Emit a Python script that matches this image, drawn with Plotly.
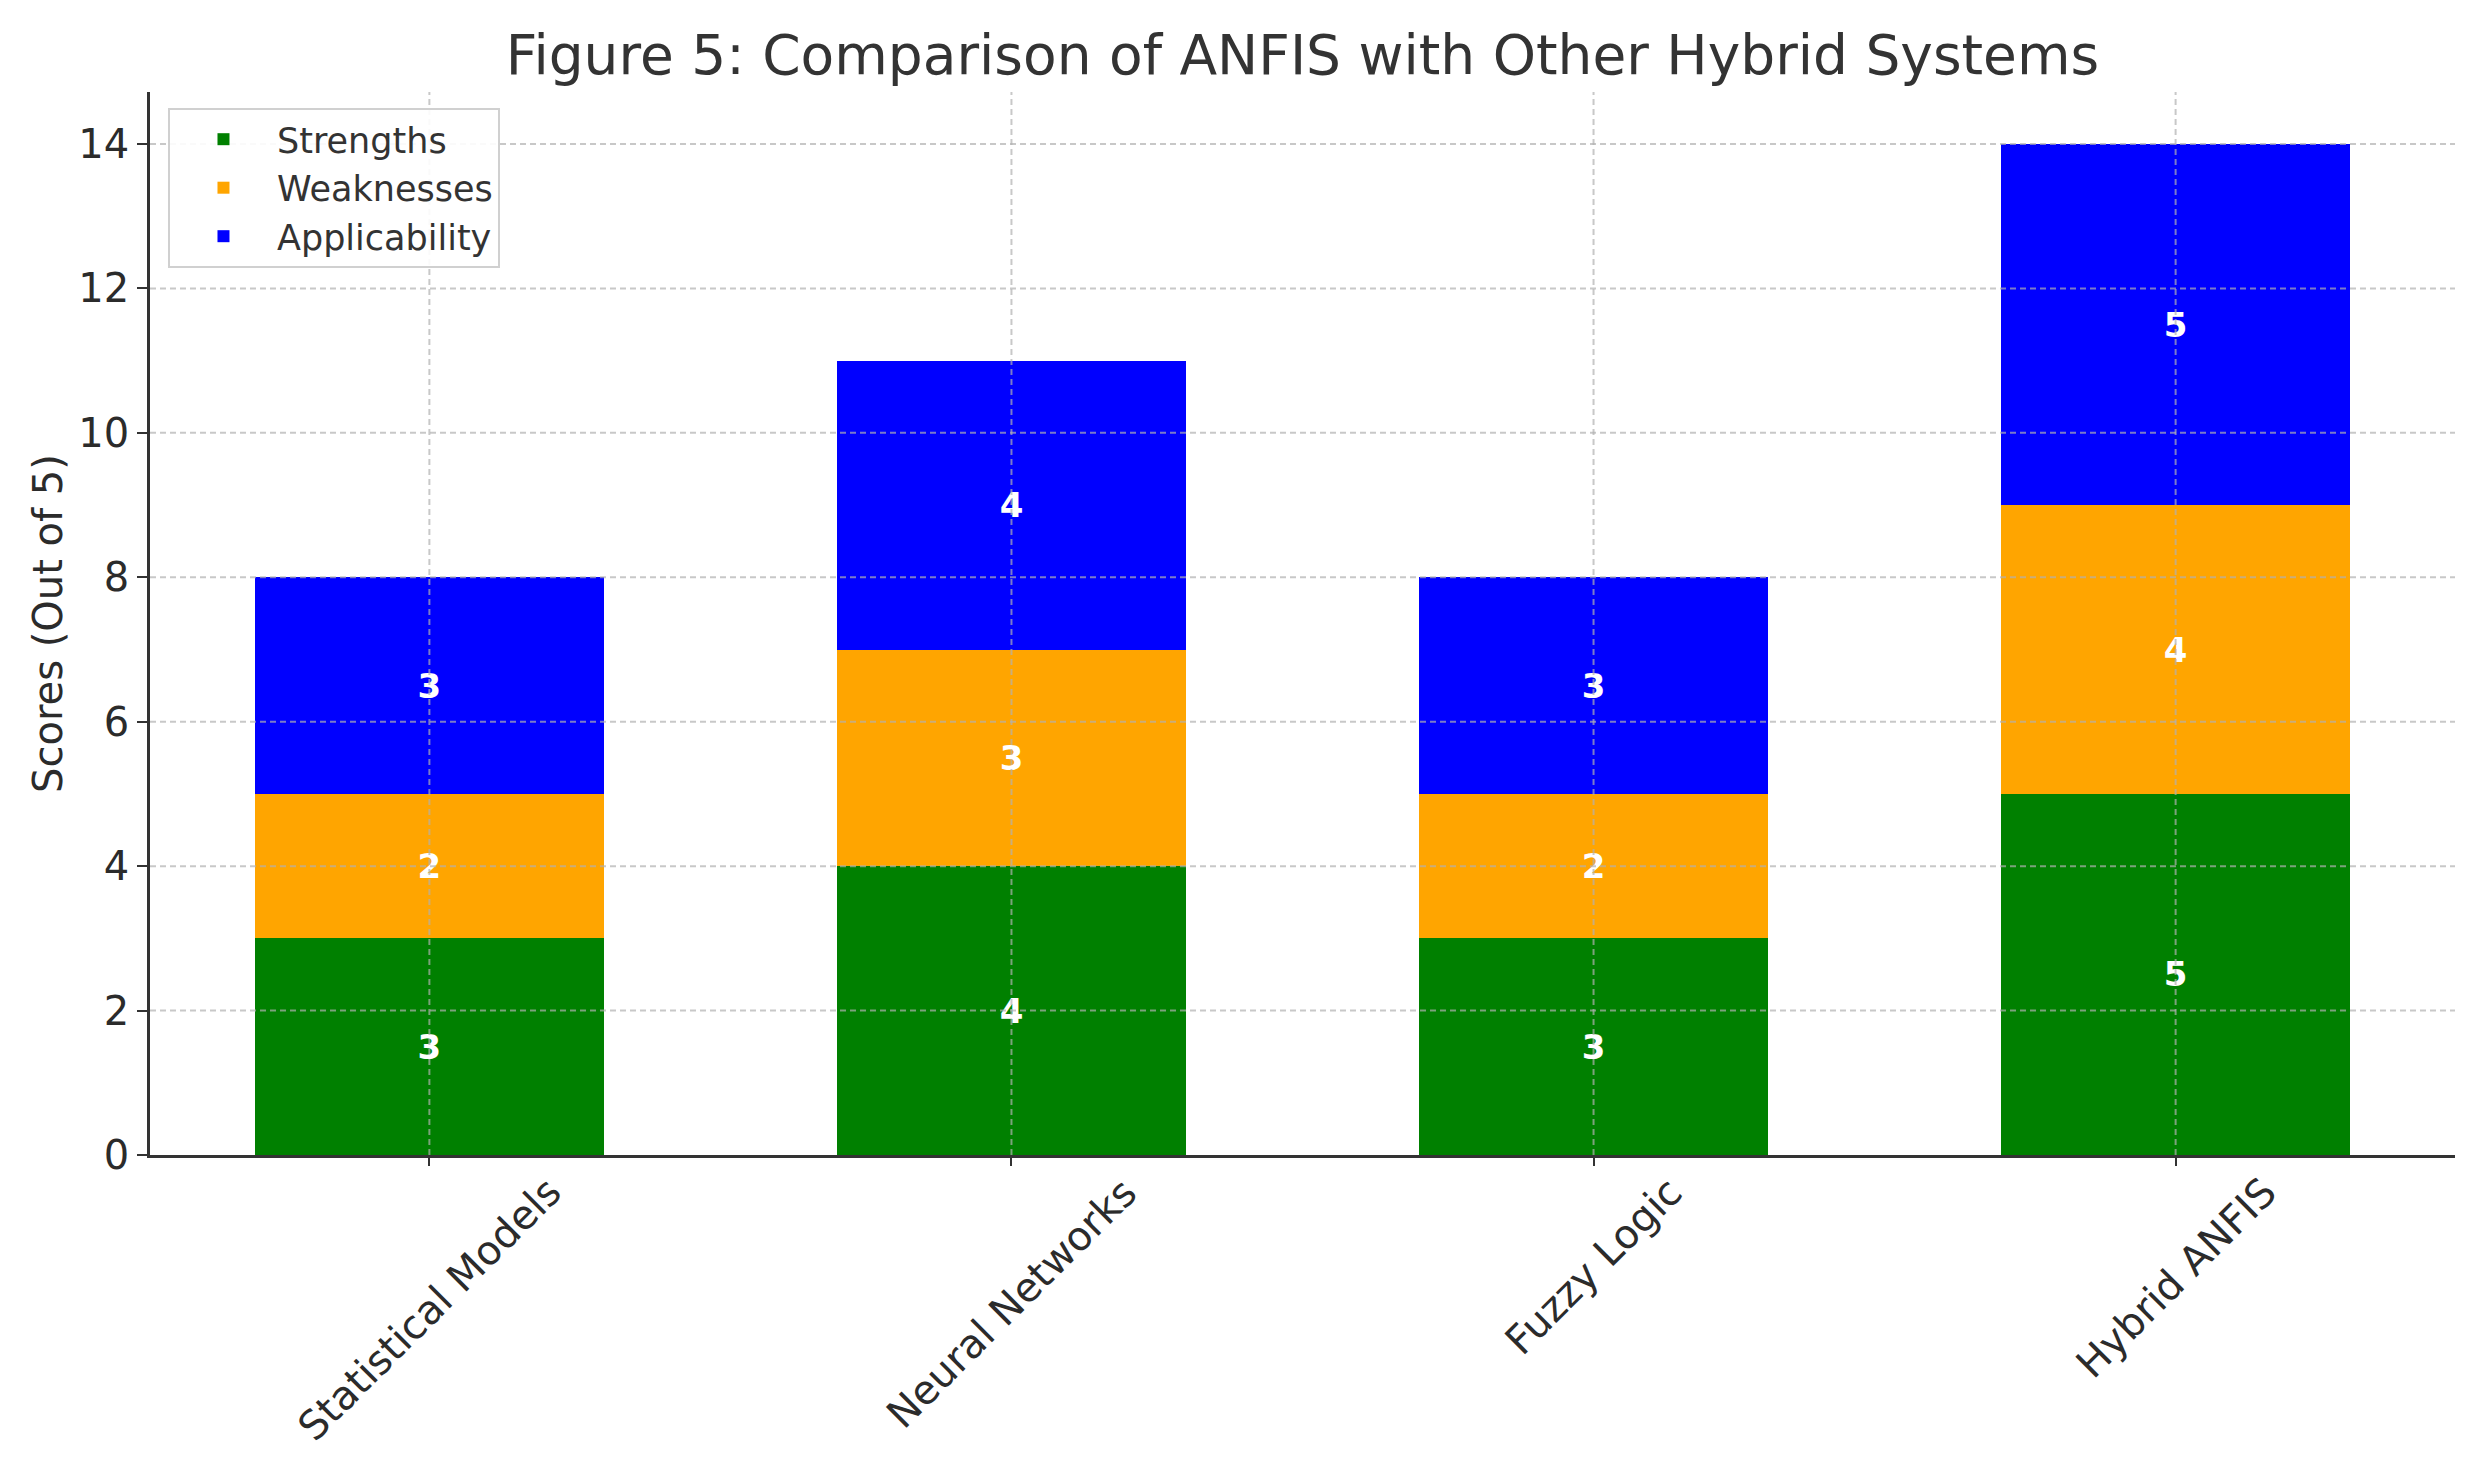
import plotly.graph_objects as go

categories = ["Statistical Models", "Neural Networks", "Fuzzy Logic", "Hybrid ANFIS"]
strengths = [3, 4, 3, 5]
weaknesses = [2, 3, 2, 4]
applicability = [3, 4, 3, 5]
series_names = ["Strengths", "Weaknesses", "Applicability"]
series_colors = ["#008000", "#FFA500", "#0000FF"]
y_ticks = [0, 2, 4, 6, 8, 10, 12, 14]

FONT = "DejaVu Sans"
TXT = "#2b2b2b"

fig = go.Figure()
for name, vals, col in zip(series_names, [strengths, weaknesses, applicability], series_colors):
    fig.add_trace(go.Bar(
        x=categories, y=vals, name=name, legendgroup=name,
        marker=dict(color=col, line=dict(width=0)),
        texttemplate="%{y}", textposition="inside", insidetextanchor="middle",
        textfont=dict(family=FONT, size=34, color="white", weight="bold"),
        constraintext="none",
    ))

# dashed grid drawn above the bars (as in the reference)
grid_col = "rgba(176,176,176,0.7)"
shapes = []
for t in y_ticks[1:]:
    shapes.append(dict(type="line", xref="paper", yref="y", x0=0, x1=1, y0=t, y1=t,
                       line=dict(color=grid_col, width=2, dash="6px,4px"), layer="above"))
for i in range(len(categories)):
    shapes.append(dict(type="line", xref="x", yref="paper", x0=i, x1=i, y0=0, y1=1,
                       line=dict(color=grid_col, width=2, dash="6px,4px"), layer="above"))

annotations = []
for c in categories:
    annotations.append(dict(x=c, xref="x", y=-0.0104, yref="paper", text=c,
                            showarrow=False, textangle=-45, xanchor="center", yanchor="top",
                            font=dict(family=FONT, size=40, color=TXT)))

fig.update_layout(
    width=2480, height=1463,
    margin=dict(l=142, r=33, t=84, b=316),
    paper_bgcolor="white", plot_bgcolor="white",
    barmode="stack", bargap=0.4,
    font=dict(family=FONT, color=TXT),
    title=dict(text="Figure 5: Comparison of ANFIS with Other Hybrid Systems",
               x=0.5, xref="paper", xanchor="center", y=1 - 47 / 1463, yref="container",
               yanchor="middle", font=dict(family=FONT, size=55, color="#333333")),
    legend=dict(x=0.0078, y=0.985, xanchor="left", yanchor="top",
                bgcolor="rgba(255,255,255,0.9)", bordercolor="#d0d0d0", borderwidth=2,
                itemwidth=97, tracegroupgap=5,
                font=dict(family=FONT, size=35, color="#333333"), traceorder="normal"),
    shapes=shapes,
    annotations=annotations,
    xaxis=dict(range=[-0.48, 3.48], showgrid=False, showticklabels=False,
               ticks="outside", ticklen=8, tickwidth=2, tickcolor="#333333",
               showline=True, linecolor="#333333", linewidth=2.5, zeroline=False),
    yaxis=dict(range=[0, 14.72], tickvals=y_ticks, showgrid=False,
               ticks="outside", ticklen=10, tickwidth=2, tickcolor="#333333",
               showline=True, linecolor="#333333", linewidth=2.5, zeroline=False,
               tickfont=dict(family=FONT, size=40, color=TXT),
               title=dict(text="Scores (Out of 5)", standoff=4,
                          font=dict(family=FONT, size=40, color=TXT))),
)

fig.write_html("out.html")
